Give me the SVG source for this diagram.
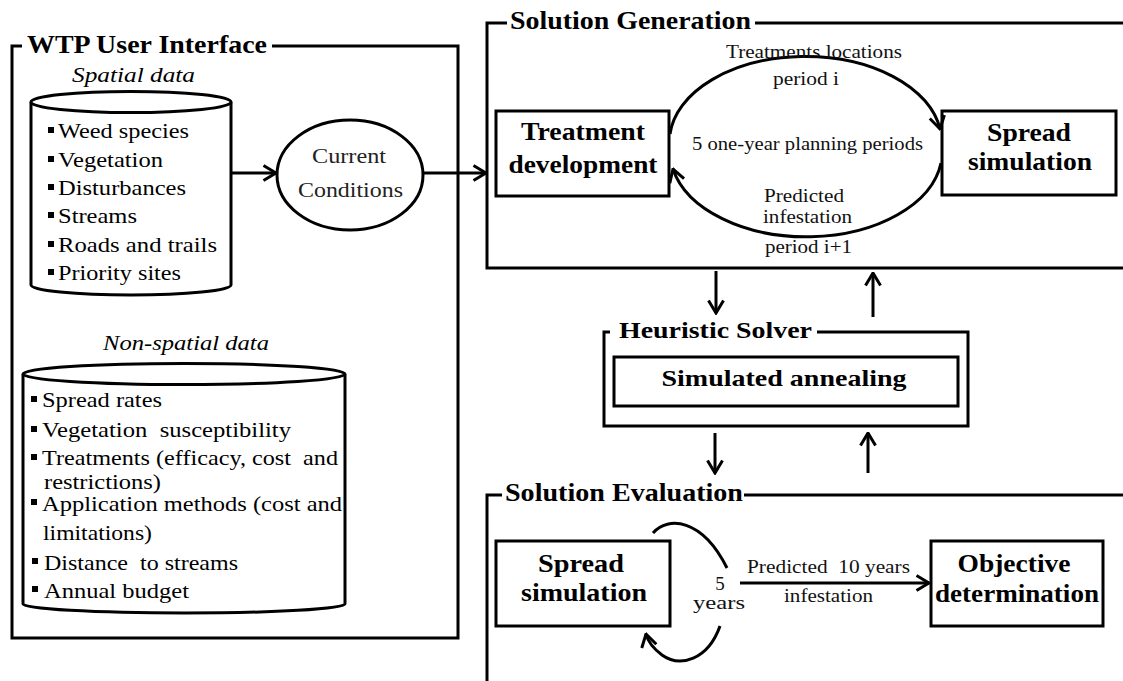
<svg xmlns="http://www.w3.org/2000/svg" width="1123" height="681" viewBox="0 0 1123 681" font-family="Liberation Serif, Times New Roman, serif">
<defs>
<style>
text{font-family:"Liberation Serif","Times New Roman",serif}
.title{font-weight:bold;font-size:25px;fill:#000}
.node{font-weight:bold;font-size:25px;fill:#000;text-anchor:middle}
.item{font-size:22px;fill:#000}
.lab{font-size:19px;fill:#111}
.frame{fill:none;stroke:#000;stroke-width:3}
.box{fill:#fff;stroke:#000;stroke-width:3}
.conn{fill:none;stroke:#000;stroke-width:3}
.bul{fill:#000}
</style>
<marker id="arr" viewBox="0 0 16 18" refX="14.5" refY="9" markerWidth="16" markerHeight="18" markerUnits="userSpaceOnUse" orient="auto">
<path d="M2,1.5 L14.5,9 L2,16.5" fill="none" stroke="#000" stroke-width="3"/>
</marker>
</defs>
<rect width="1123" height="681" fill="#fff"/>

<g id="wtp-frame">
<path class="frame" d="M22,46 L12,46 L12,638 L458,638 L458,46 L272,46"/>
<text class="title" x="27" y="53" textLength="240" lengthAdjust="spacingAndGlyphs">WTP User Interface</text>
</g>

<g id="spatial-data">
<text class="item" x="72" y="82" font-style="italic" textLength="123" lengthAdjust="spacingAndGlyphs">Spatial data</text>
<path class="box" d="M31,102 L31,285 A100,10 0 0 0 231,285 L231,102"/>
<ellipse class="box" cx="131" cy="102" rx="100" ry="10.5"/>
<rect class="bul" x="48" y="127" width="6" height="6"/>
<rect class="bul" x="48" y="156" width="6" height="6"/>
<rect class="bul" x="48" y="184" width="6" height="6"/>
<rect class="bul" x="48" y="212" width="6" height="6"/>
<rect class="bul" x="48" y="241" width="6" height="6"/>
<rect class="bul" x="48" y="269" width="6" height="6"/>
<text class="item" x="58" y="138" textLength="131" lengthAdjust="spacingAndGlyphs">Weed species</text>
<text class="item" x="58" y="167" textLength="105" lengthAdjust="spacingAndGlyphs">Vegetation</text>
<text class="item" x="58" y="195" textLength="128" lengthAdjust="spacingAndGlyphs">Disturbances</text>
<text class="item" x="58" y="223" textLength="79" lengthAdjust="spacingAndGlyphs">Streams</text>
<text class="item" x="58" y="252" textLength="159" lengthAdjust="spacingAndGlyphs">Roads and trails</text>
<text class="item" x="58" y="280" textLength="123" lengthAdjust="spacingAndGlyphs">Priority sites</text>
</g>

<g id="current-conditions">
<ellipse class="box" cx="350" cy="175" rx="73" ry="55"/>
<text class="item" x="349" y="163" text-anchor="middle" style="fill:#222" textLength="74" lengthAdjust="spacingAndGlyphs">Current</text>
<text class="item" x="350.5" y="197" text-anchor="middle" style="fill:#222" textLength="105" lengthAdjust="spacingAndGlyphs">Conditions</text>
</g>

<g id="non-spatial-data">
<text class="item" x="103" y="350" font-style="italic" textLength="166" lengthAdjust="spacingAndGlyphs">Non-spatial data</text>
<path class="box" d="M23,374 L23,604 A161,9 0 0 0 345,604 L345,374"/>
<ellipse class="box" cx="184" cy="374" rx="161" ry="10.5"/>
<rect class="bul" x="31" y="396" width="6" height="6"/>
<rect class="bul" x="31" y="426" width="6" height="6"/>
<rect class="bul" x="31" y="454" width="6" height="6"/>
<rect class="bul" x="31" y="499" width="6" height="6"/>
<rect class="bul" x="32" y="558" width="6" height="6"/>
<rect class="bul" x="32" y="586" width="6" height="6"/>
<text class="item" x="42" y="407" textLength="120" lengthAdjust="spacingAndGlyphs">Spread rates</text>
<text class="item" x="42" y="437" textLength="249" lengthAdjust="spacingAndGlyphs" xml:space="preserve">Vegetation  susceptibility</text>
<text class="item" x="42" y="465" style="font-size:21px" textLength="296" lengthAdjust="spacingAndGlyphs" xml:space="preserve">Treatments (efficacy, cost  and</text>
<text class="item" x="44" y="489" style="font-size:21px" textLength="117" lengthAdjust="spacingAndGlyphs">restrictions)</text>
<text class="item" x="42" y="511" textLength="300" lengthAdjust="spacingAndGlyphs">Application methods (cost and</text>
<text class="item" x="43" y="540" textLength="109" lengthAdjust="spacingAndGlyphs">limitations)</text>
<text class="item" x="44" y="570" textLength="194" lengthAdjust="spacingAndGlyphs" xml:space="preserve">Distance  to streams</text>
<text class="item" x="44" y="598" textLength="145" lengthAdjust="spacingAndGlyphs">Annual budget</text>
</g>

<g id="solution-generation">
<path class="frame" d="M507,23 L487,23 L487,268 L1130,268 M755,23 L1130,23"/>
<text class="title" x="510" y="29" textLength="241" lengthAdjust="spacingAndGlyphs">Solution Generation</text>
</g>

<g id="treatment-development">
<rect class="box" x="496" y="111" width="173" height="85"/>
<text class="node" x="583" y="140" textLength="124" lengthAdjust="spacingAndGlyphs">Treatment</text>
<text class="node" x="583" y="173" textLength="149" lengthAdjust="spacingAndGlyphs">development</text>
</g>

<g id="spread-simulation-gen">
<rect class="box" x="942" y="111" width="174" height="84"/>
<text class="node" x="1029" y="141" textLength="84" lengthAdjust="spacingAndGlyphs">Spread</text>
<text class="node" x="1030" y="170" textLength="124" lengthAdjust="spacingAndGlyphs">simulation</text>
</g>

<g id="heuristic-solver">
<path class="frame" d="M610,332 L604,332 L604,426 L968,426 L968,332 L817,332"/>
<text class="title" x="619" y="338" style="font-size:24px" textLength="193" lengthAdjust="spacingAndGlyphs">Heuristic Solver</text>
</g>

<g id="simulated-annealing">
<rect class="box" x="614" y="357" width="344" height="49"/>
<text class="node" x="784" y="386" style="font-size:24px" textLength="245" lengthAdjust="spacingAndGlyphs">Simulated annealing</text>
</g>

<g id="solution-evaluation">
<path class="frame" d="M502,495 L487,495 L487,690 M744,495 L1130,495"/>
<text class="title" x="505" y="501" textLength="238" lengthAdjust="spacingAndGlyphs">Solution Evaluation</text>
</g>

<g id="spread-simulation-eval">
<rect class="box" x="496" y="541" width="174" height="85"/>
<text class="node" x="581" y="572" textLength="86" lengthAdjust="spacingAndGlyphs">Spread</text>
<text class="node" x="584" y="601" textLength="126" lengthAdjust="spacingAndGlyphs">simulation</text>
</g>

<g id="objective-determination">
<rect class="box" x="931" y="541" width="172" height="85"/>
<text class="node" x="1014" y="572" textLength="113" lengthAdjust="spacingAndGlyphs">Objective</text>
<text class="node" x="1017" y="602" textLength="164" lengthAdjust="spacingAndGlyphs">determination</text>
</g>

<g id="connectors">
<path class="conn" d="M231,173 L276,173" marker-end="url(#arr)"/>
<path class="conn" d="M423,173 L486,173" marker-end="url(#arr)"/>
<path class="conn" d="M670,134 A136,85 0 0 1 940,129" marker-end="url(#arr)"/>
<path class="conn" d="M941,163 A136,85 0 0 1 673,169" marker-end="url(#arr)"/>
<path class="conn" d="M716,271 L716,313" marker-end="url(#arr)"/>
<path class="conn" d="M873,317 L873,273" marker-end="url(#arr)"/>
<path class="conn" d="M715,433 L715,473" marker-end="url(#arr)"/>
<path class="conn" d="M868,473 L868,433" marker-end="url(#arr)"/>
<path class="conn" d="M653,533 C668,516 702,518 727,568"/>
<path class="conn" d="M720,626 C708,660 680,668 662,655 C654,649 648,642 646,634" marker-end="url(#arr)"/>
<path class="conn" d="M740,583 L929,583" marker-end="url(#arr)"/>
</g>

<g id="labels" text-anchor="middle">
<text class="lab" x="814" y="58" textLength="176" lengthAdjust="spacingAndGlyphs">Treatments locations</text>
<text class="lab" x="806" y="85" textLength="66" lengthAdjust="spacingAndGlyphs">period i</text>
<text class="lab" x="807.5" y="150" textLength="231" lengthAdjust="spacingAndGlyphs">5 one-year planning periods</text>
<text class="lab" x="804" y="202" textLength="80" lengthAdjust="spacingAndGlyphs">Predicted</text>
<text class="lab" x="807.5" y="223" textLength="89" lengthAdjust="spacingAndGlyphs">infestation</text>
<text class="lab" x="808.5" y="253" textLength="87" lengthAdjust="spacingAndGlyphs">period i+1</text>
<text class="lab" x="720" y="590">5</text>
<text class="lab" x="719" y="609" textLength="52" lengthAdjust="spacingAndGlyphs">years</text>
<text class="lab" x="747" y="573" text-anchor="start" textLength="163" lengthAdjust="spacingAndGlyphs" xml:space="preserve">Predicted  10 years</text>
<text class="lab" x="828.5" y="602" textLength="89" lengthAdjust="spacingAndGlyphs">infestation</text>
</g>
</svg>
